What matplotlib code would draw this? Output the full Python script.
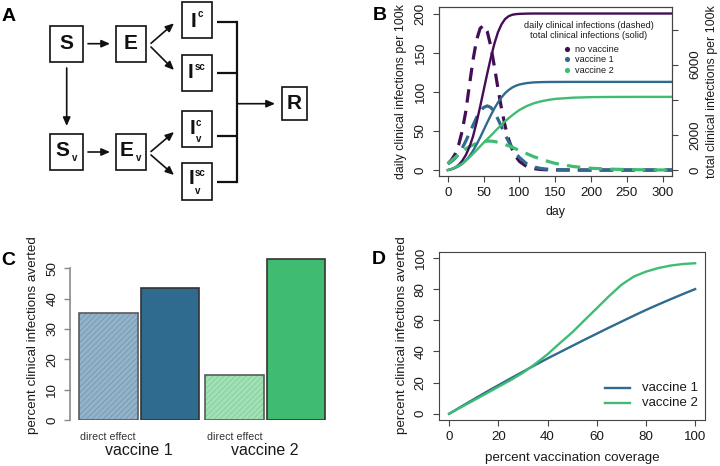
import matplotlib
matplotlib.use('Agg')
import matplotlib.pyplot as plt
from matplotlib.patches import Rectangle

plt.rcParams['font.family'] = ['Liberation Sans', 'DejaVu Sans']
plt.rcParams['hatch.linewidth'] = 0.6

W, H = 720, 466

# ---------------- data: panel B ----------------
days = [0, 5, 10, 15, 20, 25, 30, 35, 40, 45, 50, 55, 60, 65, 70, 75, 80, 85, 90, 95, 100,
        110, 120, 130, 140, 150, 175, 200, 225, 250, 275, 300, 320]
daily_none = [8, 13, 20, 32, 50, 75, 108, 140, 166, 181, 185, 177, 158, 132, 104, 78, 56, 39, 26, 17, 11,
              4.5, 1.8, 0.7, 0.3, 0.1, 0, 0, 0, 0, 0, 0, 0]
daily_v1 = [8, 11, 15, 21, 28, 37, 47, 57, 67, 75, 80, 82, 80, 74, 65, 55, 45, 36, 28, 21, 16,
            8, 4, 2, 1, 0.4, 0.1, 0, 0, 0, 0, 0, 0]
daily_v2 = [8, 12, 16, 20, 24, 27, 30, 32, 34, 35.5, 36.5, 37, 37, 36.5, 35.5, 34, 32.5, 31, 29, 27, 25,
            21, 17, 14, 11, 8.5, 4.5, 2.3, 1.2, 0.6, 0.3, 0.1, 0]
total_none = [0, 50, 140, 290, 520, 850, 1300, 1900, 2700, 3600, 4550, 5500, 6400, 7200, 7850, 8300, 8600,
              8760, 8840, 8875, 8890, 8905, 8910, 8910, 8910, 8910, 8910, 8910, 8910, 8910, 8910, 8910, 8910]
total_v1 = [0, 50, 120, 220, 350, 540, 780, 1090, 1450, 1850, 2280, 2710, 3120, 3510, 3850, 4140, 4380,
            4560, 4700, 4800, 4870, 4950, 4990, 5005, 5012, 5015, 5018, 5018, 5018, 5018, 5018, 5018, 5018]
total_v2 = [0, 65, 150, 250, 370, 535, 720, 920, 1130, 1345, 1560, 1760, 1960, 2170, 2380, 2580, 2780,
            2955, 3120, 3275, 3420, 3640, 3800, 3910, 3990, 4050, 4120, 4150, 4160, 4163, 4165, 4165, 4165]
scenario_names = ['no vaccine', 'vaccine 1', 'vaccine 2']

# ---------------- data: panel C ----------------
vaccines = ['vaccine 1', 'vaccine 2']
direct_effect = [35.2, 15.0]
total_effect = [43.6, 53.0]

# ---------------- data: panel D ----------------
coverage = [0, 5, 10, 15, 20, 25, 30, 35, 40, 45, 50, 55, 60, 65, 70, 75, 80, 85, 90, 95, 100]
averted_v1 = [0, 4.7, 9.3, 13.9, 18.3, 22.7, 27, 31.3, 35.5, 39.5, 43.5, 47.5, 51.4, 55.3, 59.1, 62.9,
              66.6, 70.1, 73.5, 76.8, 80]
averted_v2 = [0, 4.3, 8.6, 12.9, 17.3, 21.6, 26.3, 32, 38.2, 45.3, 52.2, 60, 67.7, 75.5, 82.7, 88,
              91.2, 93.5, 95.1, 96.1, 96.6]

PURPLE = '#440d56'
BLUE = '#2f6b8e'
GREEN = '#3fbc72'
colors = [PURPLE, BLUE, GREEN]
LIGHT_BLUE = '#93b3c9'
LIGHT_BLUE_H = '#7597b0'
LIGHT_GREEN = '#a3e0b6'
LIGHT_GREEN_H = '#7fcf99'
TXT = '#1a1a1a'
SPINE = '#444444'

fig = plt.figure(figsize=(7.2, 4.66), dpi=100)


def px_axes(left, top, right, bottom):
    return fig.add_axes([left / W, 1 - bottom / H, (right - left) / W, (bottom - top) / H])


def style_box(ax):
    for s in ax.spines.values():
        s.set_color(SPINE)
        s.set_linewidth(0.8)


# ---------------- Panel B ----------------
axB = px_axes(439.3, 7.3, 672.3, 176.3)
axB.set_xlim(-12, 313.5)
axB.set_ylim(-8, 208)
for vals, c in zip([daily_none, daily_v1, daily_v2], colors):
    axB.plot(days, vals, color=c, lw=2.3, dashes=(4.2, 2.6))
axB.set_xticks([0, 50, 100, 150, 200, 250, 300])
axB.set_yticks([0, 50, 100, 150, 200])
axB.tick_params(axis='x', length=4.5, width=0.8, color=SPINE, labelsize=9.6, pad=3.5, labelcolor=TXT)
axB.tick_params(axis='y', length=4.5, width=0.8, color=SPINE, labelsize=9.6, pad=4.5,
                labelrotation=90, labelcolor=TXT)
for lab in axB.get_yticklabels():
    lab.set_va('center')
style_box(axB)

axB2 = axB.twinx()
axB2.set_ylim(-356, 9264)
for vals, c in zip([total_none, total_v1, total_v2], colors):
    axB2.plot(days, vals, color=c, lw=1.7)
axB2.set_yticks([0, 2000, 4000, 6000, 8000])
axB2.set_yticklabels(['0', '2000', '', '6000', ''])
axB2.tick_params(axis='y', length=4.5, width=0.8, color=SPINE, labelsize=9.6, pad=8,
                 labelrotation=90, labelcolor=TXT)
for lab in axB2.get_yticklabels():
    lab.set_va('center')
style_box(axB2)

# ---------------- Panel C ----------------
axC = px_axes(70, 253.2, 340, 420)
axC.set_ylim(0, 55)
axC.set_xlim(-0.654, 3.96)
bw = 1.0
for g, (d, t) in enumerate(zip(direct_effect, total_effect)):
    x0 = g * 2.154
    x1 = x0 + 1.053
    lc, hc = (LIGHT_BLUE, LIGHT_BLUE_H) if g == 0 else (LIGHT_GREEN, LIGHT_GREEN_H)
    dc = BLUE if g == 0 else GREEN
    axC.bar(x0, d, width=bw, facecolor=lc, edgecolor=hc, hatch='//////', linewidth=0)
    axC.bar(x0, d, width=bw, fill=False, edgecolor='#5a5a5a', linewidth=1.2)
    axC.bar(x1, t, width=bw, facecolor=dc, edgecolor='#333333', linewidth=1.2)
    axC.text(x0, -5.5, 'direct effect', ha='center', va='center', fontsize=7.7, color='#333333')
    axC.text((x0 + x1) / 2, -10.1, vaccines[g], ha='center', va='center', fontsize=11.5, color=TXT)
for s in ['top', 'right', 'bottom']:
    axC.spines[s].set_visible(False)
axC.spines['left'].set_bounds(0, 50)
axC.spines['left'].set_color('#8a8a8a')
axC.spines['left'].set_linewidth(1.2)
axC.set_xticks([])
axC.set_yticks([0, 10, 20, 30, 40, 50])
axC.tick_params(axis='y', length=4.5, width=1.0, color='#8a8a8a', labelsize=9.6, pad=4,
                labelrotation=90, labelcolor=TXT)
for lab in axC.get_yticklabels():
    lab.set_va('center')

# ---------------- Panel D ----------------
axD = px_axes(439.3, 251.7, 705, 420)
axD.set_xlim(-4, 104)
axD.set_ylim(-4, 104)
axD.plot(coverage, averted_v1, color=BLUE, lw=1.7)
axD.plot(coverage, averted_v2, color=GREEN, lw=1.7)
axD.set_xticks([0, 20, 40, 60, 80, 100])
axD.set_yticks([0, 20, 40, 60, 80, 100])
axD.tick_params(axis='x', length=4.5, width=0.8, color=SPINE, labelsize=9.6, pad=3.5, labelcolor=TXT)
axD.tick_params(axis='y', length=4.5, width=0.8, color=SPINE, labelsize=9.6, pad=4.5,
                labelrotation=90, labelcolor=TXT)
for lab in axD.get_yticklabels():
    lab.set_va('center')
style_box(axD)

# ---------------- overlay (pixel coordinates) ----------------
ov = fig.add_axes([0, 0, 1, 1])
ov.set_xlim(0, W)
ov.set_ylim(H, 0)
ov.axis('off')
ov.patch.set_alpha(0)

# panel letters
for lt, (x, y) in zip('ABCD', [(9, 16.7), (380, 15), (8.5, 260.5), (379, 260)]):
    ov.text(x, y, lt, fontsize=14, fontweight='bold', ha='center', va='center', color='black')

# axis labels
ov.text(401, 91.8, 'daily clinical infections per 100k', rotation=90, ha='center', va='center',
        fontsize=8.9, color=TXT)
ov.text(712, 91.8, 'total clinical infections per 100k', rotation=90, ha='center', va='center',
        fontsize=8.9, color=TXT)
ov.text(555.8, 212, 'day', ha='center', va='center', fontsize=8.9, color=TXT)
ov.text(33.3, 335, 'percent clinical infections averted', rotation=90, ha='center', va='center',
        fontsize=9.6, color=TXT)
ov.text(401.7, 335.5, 'percent clinical infections averted', rotation=90, ha='center', va='center',
        fontsize=9.6, color=TXT)
ov.text(572.2, 458.3, 'percent vaccination coverage', ha='center', va='center', fontsize=9.6, color=TXT)

# panel B legend
ov.text(589, 25, 'daily clinical infections (dashed)', ha='center', va='center', fontsize=6.6, color=TXT)
ov.text(589, 35.7, 'total clinical infections (solid)', ha='center', va='center', fontsize=6.6, color=TXT)
for name, c, y in zip(scenario_names, colors, [49, 59.3, 70.3]):
    ov.scatter([566.7], [y], s=14, color=c, linewidths=0)
    ov.text(575, y, name, ha='left', va='center', fontsize=6.6, color=TXT)

# panel D legend
for name, c, y in zip(vaccines, [BLUE, GREEN], [388.3, 403.3]):
    ov.plot([605, 630], [y, y], color=c, lw=1.7)
    ov.text(641.7, y, name, ha='left', va='center', fontsize=9.5, color=TXT)

# ---------------- Panel A diagram ----------------
boxes = {
    'S': (50, 25.7, 82.7, 61.7),
    'E': (116, 25.7, 146, 61.7),
    'Ic': (181.7, 1.7, 212, 38),
    'Isc': (181.7, 55, 212, 91),
    'Sv': (50, 134.3, 82.7, 170),
    'Ev': (116, 134.3, 146, 170),
    'Icv': (181.7, 110.5, 212, 146.7),
    'Iscv': (181.7, 162.5, 212, 199.5),
    'R': (281.7, 87.3, 307, 120),
}
for (l, t, r, b) in boxes.values():
    ov.add_patch(Rectangle((l, t), r - l, b - t, fill=False, edgecolor='#111111', lw=1.2))

big = dict(fontsize=15, fontweight='bold', ha='center', va='center', color='#111111')
small = dict(fontsize=7, fontweight='bold', ha='center', va='center', color='#111111')
ov.text(66.3, 43.7, 'S', **big)
ov.text(131, 43.7, 'E', **big)
ov.text(294.3, 103.7, 'R', **big)
ov.text(62.5, 150.5, 'S', **big)
ov.text(74.2, 158, 'v', **small)
ov.text(126.7, 150.5, 'E', **big)
ov.text(138.3, 158, 'v', **small)
ov.text(194, 21.7, 'I', **big)
ov.text(200.5, 14.3, 'c', **small)
ov.text(190.7, 72.5, 'I', **big)
ov.text(200, 66.5, 'sc', **small)
ov.text(192.2, 128, 'I', **big)
ov.text(198.5, 122.5, 'c', **small)
ov.text(199, 139.5, 'v', **small)
ov.text(191.2, 178.3, 'I', **big)
ov.text(200, 172.5, 'sc', **small)
ov.text(197.5, 191.5, 'v', **small)

arrows = [((88, 43.7), (110, 43.7)), ((66.7, 68), (66.7, 126)), ((88, 152), (110, 152)),
          ((151, 43.3), (174, 23.3)), ((151, 47), (174, 70)),
          ((151, 151.5), (174, 132)), ((151, 155), (174, 175)),
          ((236.7, 103.7), (275, 103.7))]
for (x0, y0), (x1, y1) in arrows:
    ov.annotate('', xy=(x1, y1), xytext=(x0, y0),
                arrowprops=dict(arrowstyle='-|>,head_length=0.5,head_width=0.22', color='#111111',
                                lw=1.2, shrinkA=0, shrinkB=0))
for y in [21.7, 73.3, 136, 181.7]:
    ov.plot([216.7, 236.7], [y, y], color='#111111', lw=1.6, solid_capstyle='butt')
ov.plot([236.7, 236.7], [21.7, 181.7], color='#111111', lw=1.6, solid_capstyle='projecting')

fig.savefig('out.png', dpi=100)
